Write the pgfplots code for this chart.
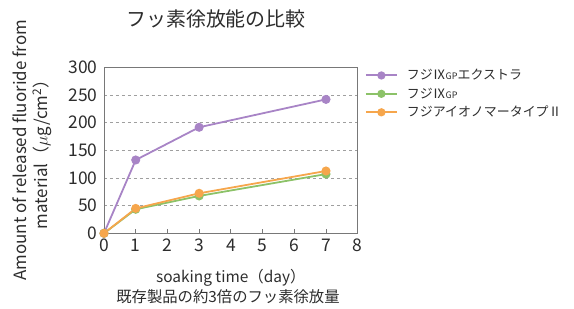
\documentclass[border=0pt]{standalone}
\usepackage{fontspec}
\setmainfont{Noto Sans CJK JP}
\usepackage{pgfplots}
\pgfplotsset{compat=1.18}
\definecolor{cpur}{RGB}{168,132,198}
\definecolor{cgrn}{RGB}{140,194,104}
\definecolor{corg}{RGB}{246,166,76}
\definecolor{ctxt}{RGB}{45,45,45}
\definecolor{cax}{RGB}{120,120,120}
\begin{document}
\begin{tikzpicture}[x=1bp,y=1bp]
\useasboundingbox (0bp,0bp) rectangle (574bp,309bp);
\begin{axis}[
  at={(104bp,75.7bp)}, anchor=south west,
  scale only axis, width=253.7bp, height=166bp,
  xmin=0, xmax=8, ymin=0, ymax=300,
  xtick={0,1,...,8}, ytick={0,50,...,300},
  xtick pos=bottom, ytick pos=left,
  tick align=inside,
  major tick length=4bp,
  ytick style={draw=none},
  xtick style={cax, line width=0.8pt},
  axis line style={cax, line width=0.9pt},
  ymajorgrids, grid style={dashed, gray!75, line width=0.5pt},
  /pgf/number format/assume math mode=true,
  ticklabel style={font=\fontsize{17.5}{19}\selectfont, text=ctxt},
  yticklabel style={xshift=-3bp},
  xticklabel style={yshift=-2bp},
  xlabel={soaking time（day）},
  xlabel style={font=\fontsize{15.5}{18}\selectfont, text=ctxt, yshift=-11bp},
  ylabel={Amount of released fluoride from\\material（$\mu$g/cm\textsuperscript{2}）},
  ylabel style={font=\fontsize{17}{20.5}\selectfont, text=ctxt, align=center, yshift=10bp},
  legend style={at={(1,1)}, anchor=north west, xshift=4bp, yshift=2bp, draw=none, fill=none,
     font=\fontsize{13}{15}\selectfont, text=ctxt, row sep=2.5bp,
     /tikz/every odd column/.append style={column sep=7bp}},
  legend image code/.code={%
    \draw[#1, line width=2pt] (0bp,0bp) -- (31bp,0bp);
    \fill[#1] (15.5bp,0bp) circle[radius=3.2bp];},
  legend cell align=left,
  every axis plot/.append style={line width=1.8pt, mark=*, mark size=3.6bp},
  clip=false,
]
\addplot[cpur, mark options={fill=cpur}] coordinates {(0,0) (1,132.5) (3,191.6) (7,242)};
\addlegendentry{フジⅨ{\fontsize{9}{10}\selectfont GP}エクストラ}
\addplot[cgrn, mark options={fill=cgrn}] coordinates {(0,0) (1,43.4) (3,67.5) (7,107)};
\addlegendentry{フジⅨ{\fontsize{9}{10}\selectfont GP}}
\addplot[corg, mark options={fill=corg}] coordinates {(0,0) (1,45) (3,72.3) (7,112.6)};
\addlegendentry{フジアイオノマータイプⅡ}
\end{axis}
\node[font=\fontsize{20}{22}\selectfont, text=ctxt] at (216bp,290bp) {フッ素徐放能の比較};
\node[font=\fontsize{15.4}{17}\selectfont, text=ctxt] at (228bp,12bp) {既存製品の約3倍のフッ素徐放量};
\end{tikzpicture}
\end{document}
